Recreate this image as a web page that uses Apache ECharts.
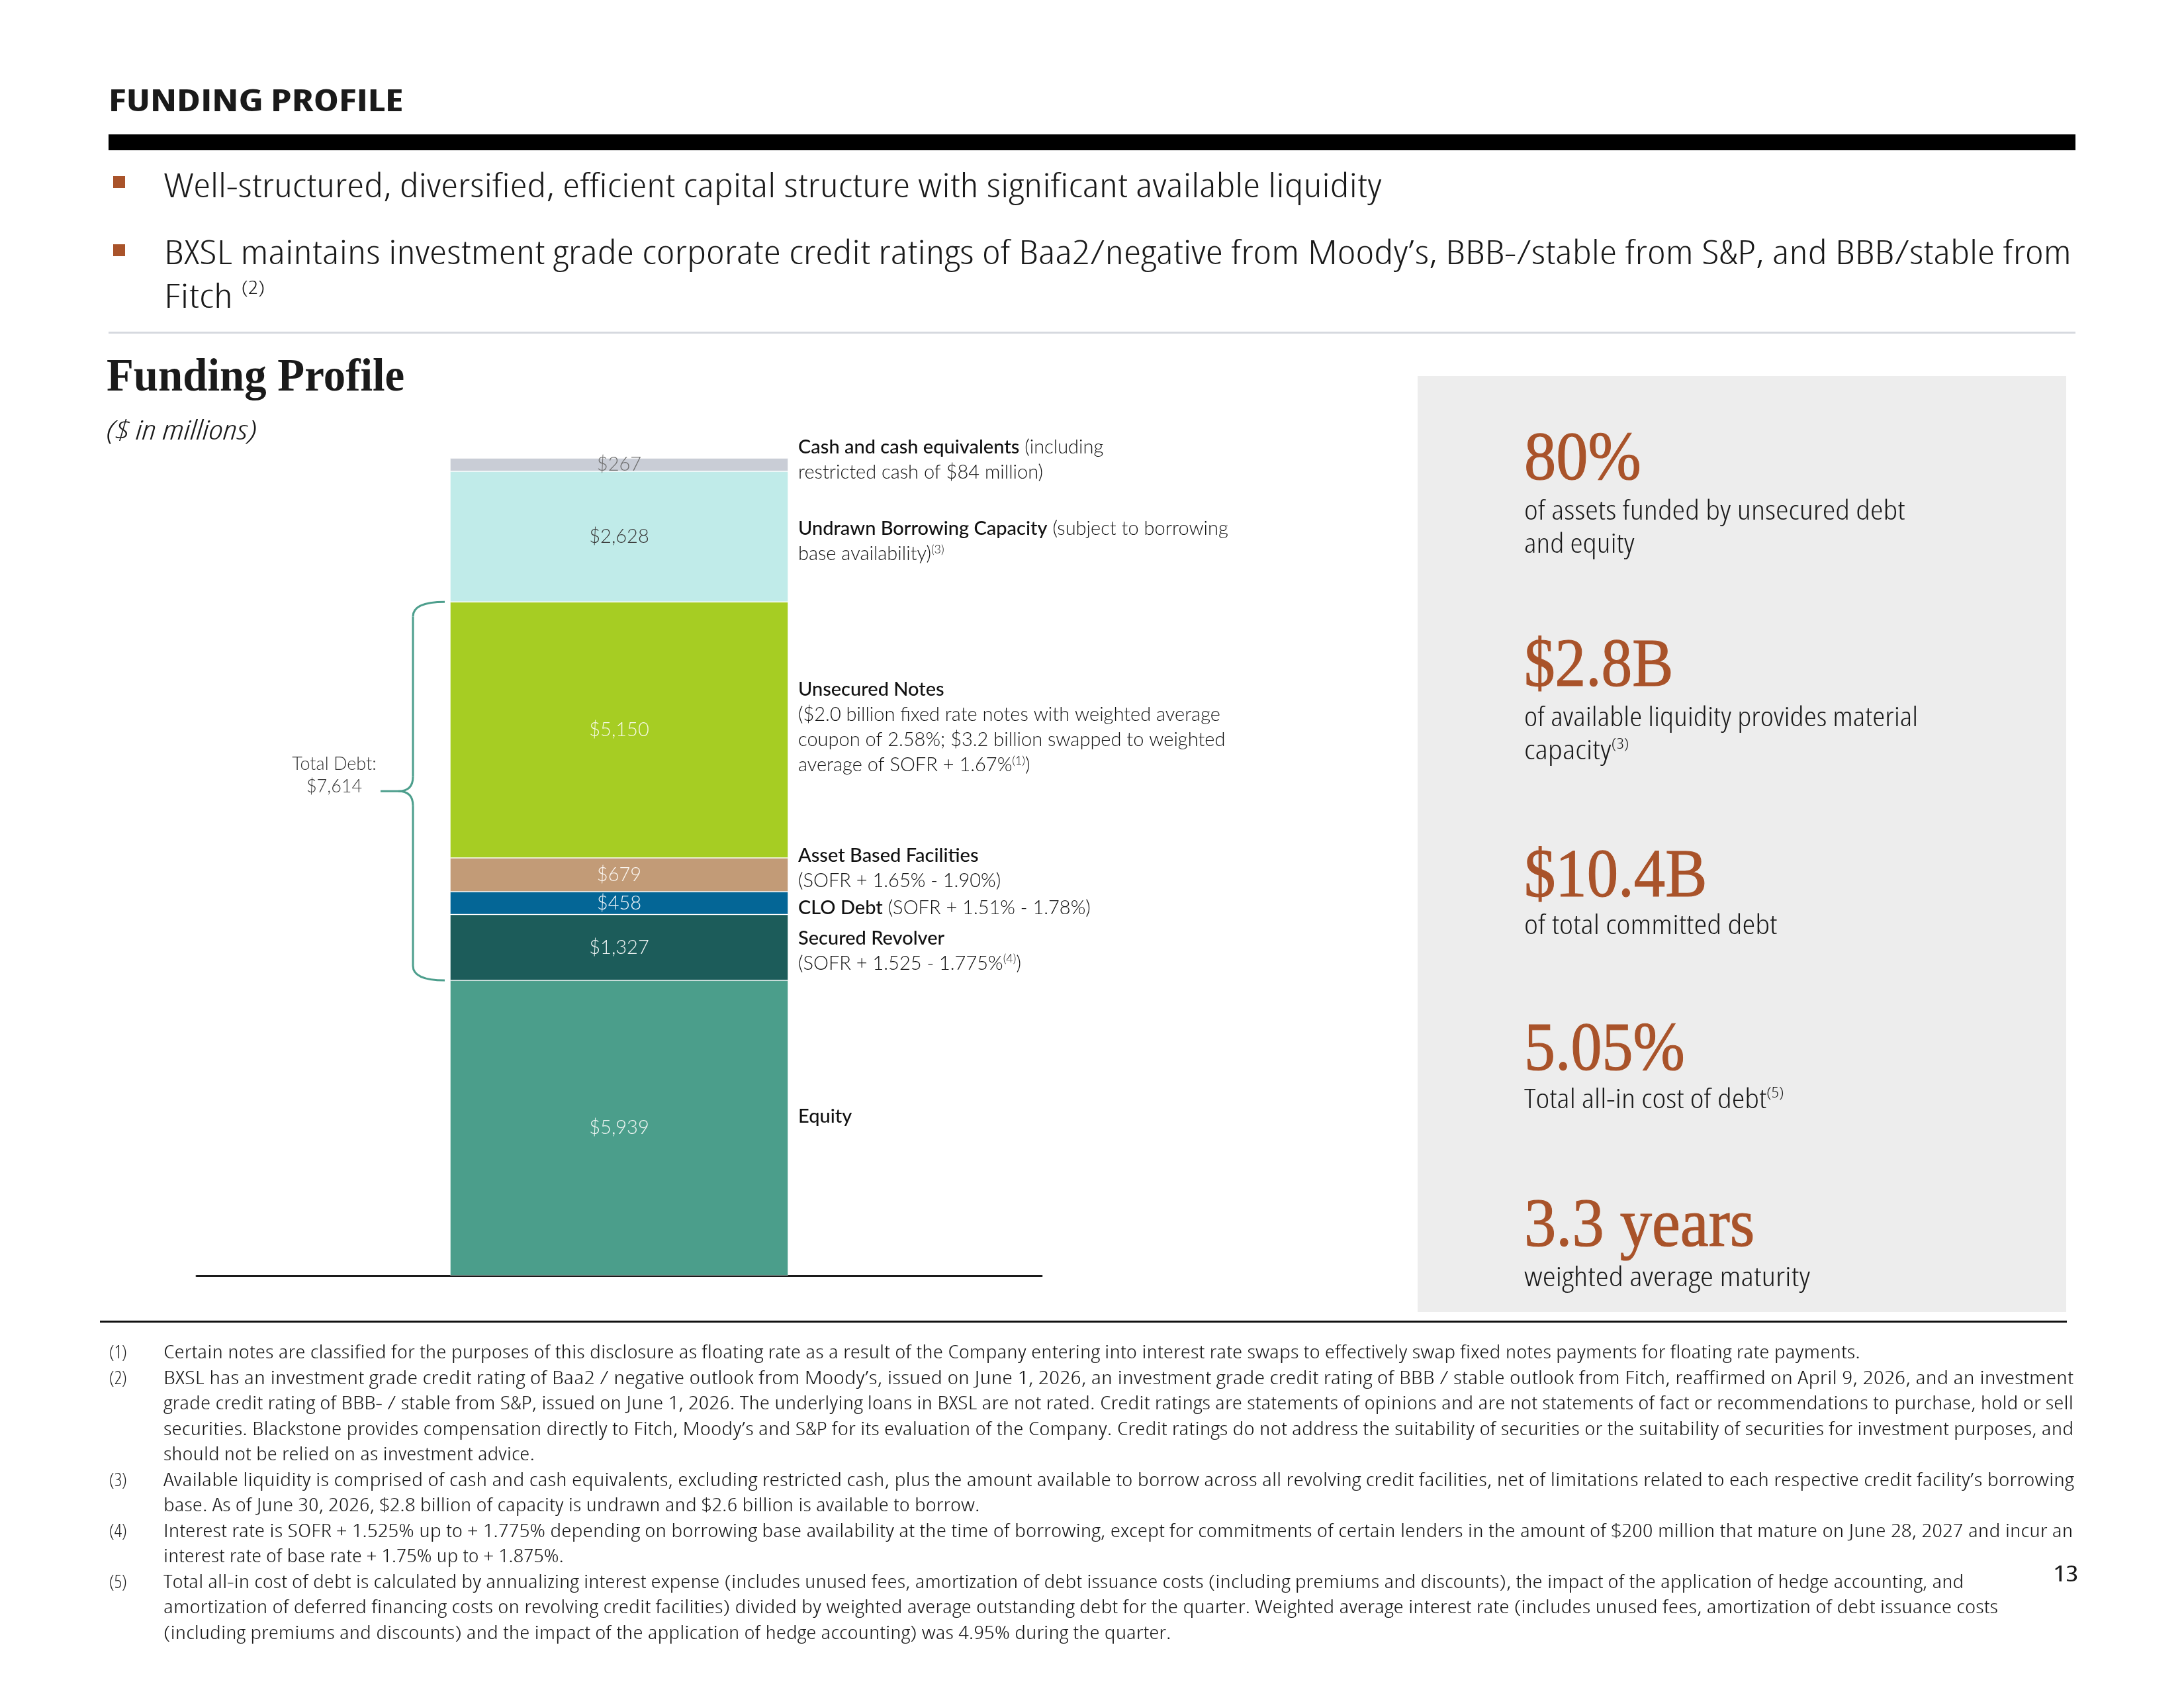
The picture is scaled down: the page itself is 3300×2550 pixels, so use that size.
<!DOCTYPE html>
<html>
<head>
<meta charset="utf-8">
<title>Funding Profile</title>
<script src="https://cdn.jsdelivr.net/npm/echarts@6/dist/echarts.min.js"></script>
<style>
  html, body { margin: 0; padding: 0; background: #fff; }
  #page { position: relative; width: 3300px; height: 2550px; overflow: hidden;
          font-family: 'Open Sans', Lato, sans-serif; color: #1a1a1a; }
  #chart { position: absolute; left: 0; top: 0; width: 3300px; height: 2550px; }
  .t { position: absolute; white-space: nowrap; line-height: 1; transform-origin: 0 50%; font-stretch: 75%; }
  .serif { font-family: 'Liberation Serif', 'DejaVu Serif', serif; font-stretch: normal; }
  .big { color: #a9532a; -webkit-text-stroke: 1.2px #a9532a; }
  sup { font-size: 0.55em; vertical-align: 0.75em; line-height: 0; }
  .box { position: absolute; }
</style>
</head>
<body>
<div id="page">
  <div id="chart"></div>
</div>
<script>
// ---- data (bottom of the stack first) ----
const category = ['Funding Profile'];
const segments = ['Equity', 'Secured Revolver', 'CLO Debt', 'Asset Based Facilities',
                  'Unsecured Notes', 'Undrawn Borrowing Capacity', 'Cash and cash equivalents'];
const values = [5939, 1327, 458, 679, 5150, 2628, 267];
const debtSegments = ['Secured Revolver', 'CLO Debt', 'Asset Based Facilities', 'Unsecured Notes'];

const descLabels = [
  '{b|Equity}',
  '{b|Secured Revolver}\n{l|(SOFR + 1.525 - 1.775%}{s|(4)}{l|)}',
  '{b|CLO Debt}{l| (SOFR + 1.51% - 1.78%)}',
  '{b|Asset Based Facilities}\n{l|(SOFR + 1.65% - 1.90%)}',
  '{b|Unsecured Notes}\n{l|($2.0 billion fixed rate notes with weighted average}\n{l|coupon of 2.58%; $3.2 billion swapped to weighted}\n{l|average of SOFR + 1.67%}{s|(1)}{l|)}',
  '{b|Undrawn Borrowing Capacity}{l| (subject to borrowing}\n{l|base availability)}{s|(3)}',
  '{b|Cash and cash equivalents}{l| (including}\n{l|restricted cash of $84 million)}'
];

const highlights = ['80%', '$2.8B', '$10.4B', '5.05%', '3.3 years'];
const highlightCaptions = [
  ['of assets funded by unsecured debt', 'and equity'],
  ['of available liquidity provides material', 'capacity<sup>(3)</sup>'],
  ['of total committed debt'],
  ['Total all-in cost of debt<sup>(5)</sup>'],
  ['weighted average maturity']
];

const bullets = [
  ['Well-structured, diversified, efficient capital structure with significant available liquidity'],
  ['BXSL maintains investment grade corporate credit ratings of Baa2/negative from Moody\u2019s, BBB-/stable from S&amp;P, and BBB/stable from',
   'Fitch <sup>(2)</sup>']
];

const footnotes = [
  ['(1)', ['Certain notes are classified for the purposes of this disclosure as floating rate as a result of the Company entering into interest rate swaps to effectively swap fixed notes payments for floating rate payments.']],
  ['(2)', ['BXSL has an investment grade credit rating of Baa2 / negative outlook from Moody\u2019s, issued on June 1, 2026, an investment grade credit rating of BBB / stable outlook from Fitch, reaffirmed on April 9, 2026, and an investment',
           'grade credit rating of BBB- / stable from S&amp;P, issued on June 1, 2026. The underlying loans in BXSL are not rated. Credit ratings are statements of opinions and are not statements of fact or recommendations to purchase, hold or sell',
           'securities. Blackstone provides compensation directly to Fitch, Moody\u2019s and S&amp;P for its evaluation of the Company. Credit ratings do not address the suitability of securities or the suitability of securities for investment purposes, and',
           'should not be relied on as investment advice.']],
  ['(3)', ['Available liquidity is comprised of cash and cash equivalents, excluding restricted cash, plus the amount available to borrow across all revolving credit facilities, net of limitations related to each respective credit facility\u2019s borrowing',
           'base. As of June 30, 2026, $2.8 billion of capacity is undrawn and $2.6 billion is available to borrow.']],
  ['(4)', ['Interest rate is SOFR + 1.525% up to + 1.775% depending on borrowing base availability at the time of borrowing, except for commitments of certain lenders in the amount of $200 million that mature on June 28, 2027 and incur an',
           'interest rate of base rate + 1.75% up to + 1.875%.']],
  ['(5)', ['Total all-in cost of debt is calculated by annualizing interest expense (includes unused fees, amortization of debt issuance costs (including premiums and discounts), the impact of the application of hedge accounting, and',
           'amortization of deferred financing costs on revolving credit facilities) divided by weighted average outstanding debt for the quarter. Weighted average interest rate (includes unused fees, amortization of debt issuance costs',
           '(including premiums and discounts) and the impact of the application of hedge accounting) was 4.95% during the quarter.']]
];

// ---- styles / layout ----
const segColors = ['#4b9e8b', '#1c5c5a', '#046696', '#c29b77', '#a6cd23', '#c0ebe9', '#c9cdd6'];
const valueColors = ['#f2f7f5', '#eef3f3', '#eef3f7', '#fbf6f0', '#f6f9e4', '#3a3a3a', '#6e6e6e'];
const labelDy = [-17, 5, 7, -10, -4, 7, -7];
const FONT = "'Open Sans', Lato, sans-serif";
const CHART_FONT = "Lato, 'Open Sans', sans-serif";
const BAR_W = 511;
const footLineWidths = [[2564], [2886, 2886, 2886, 561], [2886, 1233], [2886, 605], [2721, 2772, 1522]];
const capWidths = [[575, 167], [595, 159], [383], [393], [432]];
const bigWidths = [177, 225, 276, 243, 348];
const bigY = [690, 1002, 1320, 1582, 1848];
const capY = [[771, 821], [1083, 1133], [1397], [1660], [1929]];

const page = document.getElementById('page');
const fitList = [];

function addText(html, x, y, fs, w, opts) {
  opts = opts || {};
  const el = document.createElement('div');
  el.className = 't ' + (opts.cls || '');
  el.innerHTML = html;
  el.style.left = x + 'px';
  el.style.top = (y - (opts.k || 0.53) * fs) + 'px';
  el.style.fontSize = fs + 'px';
  el.style.fontWeight = opts.fw || 400;
  if (opts.italic) el.style.fontStyle = 'italic';
  page.appendChild(el);
  if (w) fitList.push([el, w]);
  return el;
}
function addBox(x, y, w, h, color) {
  const el = document.createElement('div');
  el.className = 'box';
  Object.assign(el.style, { left: x + 'px', top: y + 'px', width: w + 'px', height: h + 'px', background: color });
  page.insertBefore(el, page.firstChild);
}

// header
addText('FUNDING PROFILE', 164, 151, 46, 446, { fw: 700 });
addBox(164, 203, 2972, 24, '#000');
addBox(171, 266, 18, 18, '#a9532a');
addBox(171, 369, 18, 18, '#a9532a');
addText(bullets[0][0], 248, 280, 50, 1840, { fw: 300 });
addText(bullets[1][0], 248, 381, 50, 2882, { fw: 300 });
addText(bullets[1][1], 248, 447, 50, 152, { fw: 300 });
addBox(164, 501, 2972, 3, '#d6d9df');
addText('Funding Profile', 161, 568, 70, 450, { cls: 'serif', fw: 700, k: 0.51 });
addText('($ in millions)', 161, 650, 40, 228, { fw: 300, italic: true });

// highlight panel
addBox(2142, 568, 980, 1414, '#ededed');
highlights.forEach((h, i) => {
  addText(h, 2303, bigY[i], 104, bigWidths[i], { cls: 'serif big', k: 0.51 });
  highlightCaptions[i].forEach((c, j) => addText(c, 2303, capY[i][j], 40, capWidths[i][j], { fw: 300 }));
});

// footer
addBox(151, 1995, 2972, 3, '#111');
let line = 0;
footnotes.forEach((f, i) => {
  addText(f[0], 165, 2042 + line * 38.5, 28, null, { fw: 300 });
  f[1].forEach((t, j) => {
    addText(t, 247, 2042 + line * 38.5, 28, footLineWidths[i][j], { fw: 300 });
    line++;
  });
});
addText('13', 3102, 2378, 32, 38, { fw: 400 });

function fitAll() {
  fitList.forEach(([el, w]) => {
    el.style.transform = '';
    const nat = el.offsetWidth;
    if (nat > 0) el.style.transform = 'scaleX(' + (w / nat) + ')';
  });
}
fitAll();
if (document.fonts && document.fonts.ready) document.fonts.ready.then(fitAll);

// ---- chart ----
const chart = echarts.init(document.getElementById('chart'), null, { renderer: 'canvas' });
const total = values.reduce((a, b) => a + b, 0);
const richStyles = {
  b: { fontFamily: CHART_FONT, fontWeight: 500, fontSize: 29, lineHeight: 38, color: '#111' },
  l: { fontFamily: CHART_FONT, fontWeight: 300, fontSize: 29, lineHeight: 38, color: '#111' },
  s: { fontFamily: CHART_FONT, fontWeight: 300, fontSize: 18, lineHeight: 38, color: '#111',
       verticalAlign: 'top', padding: [3, 0, 0, 0] }
};

const series = [];
values.forEach((v, i) => {
  series.push({
    type: 'bar', name: segments[i], stack: 'total', data: [v], barWidth: BAR_W, barGap: '-100%',
    itemStyle: { color: segColors[i], borderColor: 'rgba(255,255,255,0.45)', borderWidth: 1 },
    label: {
      show: true, position: 'inside',
      formatter: p => '$' + p.value.toLocaleString('en-US'),
      color: valueColors[i],
      fontFamily: CHART_FONT, fontWeight: 300, fontSize: 29
    }
  });
});
values.forEach((v, i) => {
  series.push({
    type: 'bar', name: segments[i] + ' label', stack: 'desc', data: [v], barWidth: BAR_W, barGap: '-100%',
    silent: true, itemStyle: { color: 'rgba(0,0,0,0)' },
    label: {
      show: true, position: 'right', distance: 15, offset: [0, labelDy[i]],
      formatter: descLabels[i], rich: richStyles
    }
  });
});

chart.setOption({
  animation: false,
  grid: { left: 297, right: 1726, top: 692, bottom: 623 },
  xAxis: {
    type: 'category', data: category,
    axisLine: { show: true, lineStyle: { color: '#1a1a1a', width: 3 } },
    axisTick: { show: false }, axisLabel: { show: false }, splitLine: { show: false }
  },
  yAxis: { type: 'value', min: 0, max: total, show: false, splitLine: { show: false } },
  series: series
});

// brace around total debt, placed from the chart's own scale
const debtIdx = debtSegments.map(s => segments.indexOf(s));
const debtLow = values.slice(0, Math.min(...debtIdx)).reduce((a, b) => a + b, 0);
const debtTotal = debtIdx.reduce((a, i) => a + values[i], 0);
const pBot = chart.convertToPixel({ gridIndex: 0 }, [0, debtLow]);
const pTop = chart.convertToPixel({ gridIndex: 0 }, [0, debtLow + debtTotal]);
const barLeft = pBot[0] - BAR_W / 2;
const yT = pTop[1], yB = pBot[1], yM = (yT + yB) / 2;
const bx = barLeft - 56, ex = barLeft - 8, tip = barLeft - 105, r = 22, nx = bx - 22;
const braceStyle = { stroke: '#4c9e8c', lineWidth: 3, fill: null };
const curve = (x1, y1, cx, cy, x2, y2) => ({ type: 'bezierCurve', shape: { x1, y1, cpx1: cx, cpy1: cy, x2, y2 }, style: braceStyle });
const seg = (x1, y1, x2, y2) => ({ type: 'line', shape: { x1, y1, x2, y2 }, style: braceStyle });

chart.setOption({
  graphic: [
    curve(ex, yT, bx, yT, bx, yT + r),
    seg(bx, yT + r, bx, yM - r),
    curve(bx, yM - r, bx, yM, nx, yM),
    seg(nx, yM, tip, yM),
    curve(nx, yM, bx, yM, bx, yM + r),
    seg(bx, yM + r, bx, yB - r),
    curve(bx, yB - r, bx, yB, ex, yB),
    { type: 'text', x: tip - 70, y: yM - 24,
      style: { text: 'Total Debt:\n$' + debtTotal.toLocaleString('en-US'), align: 'center', verticalAlign: 'middle',
               fontFamily: CHART_FONT, fontWeight: 300, fontSize: 27, lineHeight: 34, fill: '#333' } }
  ]
});
</script>
</body>
</html>
